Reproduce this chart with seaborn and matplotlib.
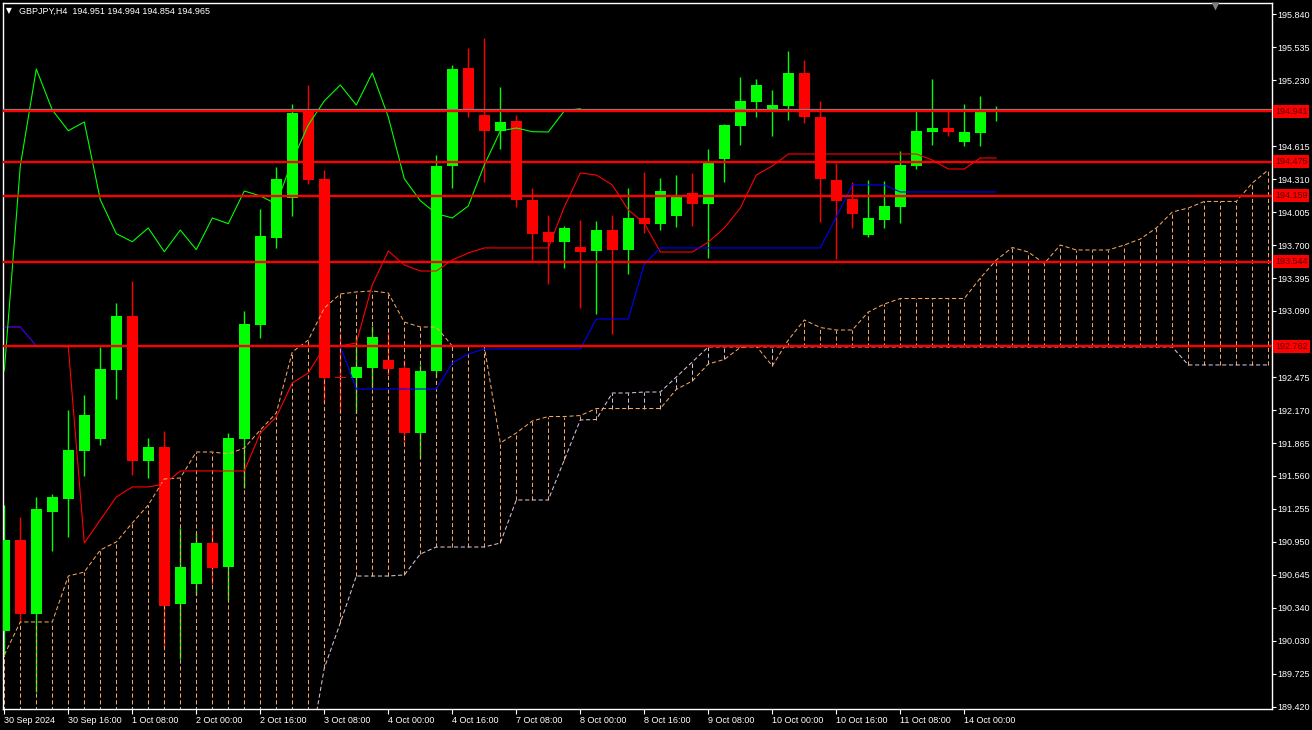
import matplotlib
matplotlib.use("Agg")
import matplotlib.pyplot as plt
import matplotlib.transforms as mtransforms
import numpy as np
import pandas as pd
import seaborn as sns

# ---------------- data ----------------
opens = [190.125, 190.966, 190.280, 191.228, 191.349, 191.794, 191.905, 192.545, 193.043, 191.699,
         191.828, 190.370, 190.561, 190.938, 190.716, 191.905, 192.960, 193.769, 194.140, 194.960,
         194.313, 192.477, 192.471, 192.561, 192.635, 192.561, 191.958, 192.536, 194.434, 195.343,
         194.907, 194.761, 194.851, 194.119, 193.822, 193.732, 193.683, 193.649, 193.840, 193.658,
         193.952, 193.896, 193.970, 194.183, 194.082, 194.499, 194.808, 195.030, 194.962, 194.993,
         195.296, 194.888, 194.304, 194.128, 193.797, 193.936, 194.057, 194.437, 194.752, 194.786,
         194.659, 194.743, 194.951]
highs = [191.291, 191.179, 191.365, 191.393, 192.171, 192.311, 192.756, 193.164, 193.368, 191.912,
         191.977, 191.077, 191.031, 191.087, 191.958, 193.089, 194.035, 194.425, 195.009, 195.185,
         194.397, 192.885, 192.851, 192.950, 192.885, 192.635, 192.589, 194.536, 195.370, 195.528,
         195.621, 195.166, 194.907, 194.233, 193.980, 193.878, 193.933, 193.924, 193.980, 194.230,
         194.378, 194.323, 194.350, 194.369, 194.592, 194.823, 195.259, 195.241, 195.139, 195.500,
         195.417, 195.037, 194.462, 194.286, 194.304, 194.295, 194.573, 194.953, 195.241, 194.953,
         195.009, 195.083, 194.994]
lows = [189.900, 190.206, 189.557, 190.867, 190.997, 191.562, 191.850, 192.271, 191.569, 191.541,
        189.977, 189.863, 190.456, 190.558, 190.410, 191.448, 192.839, 193.676, 193.973, 194.270,
        192.236, 192.144, 192.144, 192.375, 192.496, 191.866, 191.726, 192.477, 194.233, 194.891,
        194.288, 194.594, 194.057, 193.562, 193.343, 193.491, 193.120, 193.064, 192.879, 193.435,
        193.815, 193.840, 193.871, 193.880, 193.584, 194.288, 194.629, 194.888, 194.712, 194.860,
        194.835, 193.917, 193.574, 193.862, 193.778, 193.862, 193.908, 194.409, 194.629, 194.712,
        194.619, 194.619, 194.854]
closes = [190.966, 190.280, 191.253, 191.362, 191.801, 192.125, 192.552, 193.043, 191.701, 191.828,
          190.357, 190.716, 190.938, 190.709, 191.912, 192.969, 193.785, 194.313, 194.925, 194.307,
          192.471, 192.471, 192.570, 192.848, 192.552, 191.958, 192.533, 194.434, 195.333, 194.953,
          194.761, 194.842, 194.121, 193.806, 193.732, 193.859, 193.639, 193.840, 193.658, 193.952,
          193.899, 194.202, 194.156, 194.082, 194.483, 194.814, 195.037, 195.185, 194.999, 195.296,
          194.888, 194.316, 194.112, 193.992, 193.952, 194.063, 194.443, 194.758, 194.786, 194.752,
          194.749, 194.944, 194.965]

tenkan = [192.941, 192.941, 192.765, 192.765, 192.756, 190.938, 191.152, 191.365, 191.458, 191.458,
          191.485, 191.606, 191.606, 191.606, 191.606, 191.606, 191.958, 192.107, 192.422, 192.515,
          192.756, 192.765, 192.793, 193.331, 193.646, 193.516, 193.460, 193.460, 193.562, 193.627,
          193.674, 193.674, 193.674, 193.674, 193.674, 194.054, 194.369, 194.350, 194.258, 194.026,
          193.905, 193.636, 193.636, 193.636, 193.729, 193.859, 194.044, 194.350, 194.434, 194.545,
          194.545, 194.545, 194.545, 194.545, 194.545, 194.545, 194.545, 194.545, 194.489, 194.406,
          194.406, 194.508, 194.508]
kijun = ([192.941] * 2 + [192.765] * 20 + [192.366] * 6 + [192.607, 192.691] + [192.737] * 7
         + [193.015] * 3 + [193.525] + [193.674] * 11 + [193.961] + [194.258] * 3 + [194.193] * 7)
chikou = [192.533, 194.434, 195.333, 194.953, 194.761, 194.842, 194.121, 193.806, 193.732, 193.859,
          193.639, 193.840, 193.658, 193.952, 193.899, 194.202, 194.156, 194.082, 194.483, 194.814,
          195.037, 195.185, 194.999, 195.296, 194.888, 194.316, 194.112, 193.992, 193.952, 194.063,
          194.443, 194.758, 194.786, 194.752, 194.749, 194.944, 194.965]
span_a = [189.900, 190.206, 190.206, 190.206, 190.632, 190.669, 190.873, 190.948, 191.124, 191.291,
          191.532, 191.541, 191.782, 191.782, 191.764, 191.819, 191.986, 192.144, 192.709, 192.820,
          193.117, 193.247, 193.266, 193.275, 193.256, 192.987, 192.941, 192.941, 192.765, 192.765,
          192.760, 191.866, 191.958, 192.069, 192.111, 192.111, 192.120, 192.185, 192.185, 192.185,
          192.185, 192.185, 192.362, 192.440, 192.598, 192.640, 192.751, 192.765, 192.579, 192.820,
          193.006, 192.936, 192.913, 192.913, 193.080, 193.154, 193.205, 193.205, 193.205, 193.205,
          193.205, 193.395, 193.562, 193.678, 193.636, 193.530, 193.701, 193.655, 193.655, 193.655,
          193.701, 193.757, 193.859, 194.007, 194.044, 194.105, 194.105, 194.105, 194.276, 194.397]
span_b = ([188.80] * 19 + [188.926, 189.779, 190.197, 190.632, 190.632, 190.632, 190.642, 190.836]
          + [190.901] * 4 + [190.938] + [191.337] * 3 + [191.708, 192.079, 192.083]
          + [192.329] * 2 + [192.338] * 2 + [192.477, 192.617] + [192.756] * 30 + [192.589] * 6)

levels = [194.941, 194.475, 194.159, 193.544, 192.762]
bid_price = 194.965
ytick_vals = [195.840, 195.535, 195.230, 194.925, 194.615, 194.310, 194.005, 193.700, 193.395,
              193.090, 192.475, 192.170, 191.865, 191.560, 191.255, 190.950, 190.645,
              190.340, 190.030, 189.725, 189.420]
xtick_pos = [0, 4, 8, 12, 16, 20, 24, 28, 32, 36, 40, 44, 48, 52, 56, 60]
xtick_labels = ["30 Sep 2024", "30 Sep 16:00", "1 Oct 08:00", "2 Oct 00:00", "2 Oct 16:00",
                "3 Oct 08:00", "4 Oct 00:00", "4 Oct 16:00", "7 Oct 08:00", "8 Oct 00:00",
                "8 Oct 16:00", "9 Oct 08:00", "10 Oct 00:00", "10 Oct 16:00", "11 Oct 08:00",
                "14 Oct 00:00"]
header = "GBPJPY,H4  194.951 194.994 194.854 194.965"

# ---------------- style ----------------
sns.set_theme(style="dark", rc={"axes.facecolor": "black", "figure.facecolor": "black",
                                "axes.grid": False, "axes.edgecolor": "white"})
plt.rcParams["font.family"] = ["Liberation Sans", "DejaVu Sans"]

W, H = 1312, 730
L, R, T, B = 3, 1272, 3, 709
FS = 6.5
fig = plt.figure(figsize=(W / 100, H / 100), dpi=100)
ax = fig.add_axes([L / W, 1 - B / H, (R - L) / W, (B - T) / H])
ax.set_facecolor("black")

GREEN, RED = "#00ff00", "#ff0000"
SANDY, THISTLE = "#f4a460", "#d8bfd8"
DASH = (0, (4, 2.5))

# ---------------- candles ----------------
bars = np.arange(len(closes))
o = np.array(opens); c = np.array(closes)
ccol = np.where(c >= o, GREEN, RED)
ax.vlines(bars, lows, highs, colors=ccol, lw=1.0, zorder=2)
body = np.maximum(np.abs(c - o), 0.009)
ax.bar(bars, body, bottom=np.minimum(o, c), width=0.69, color=ccol, lw=0, zorder=2.6)

# ---------------- cloud ----------------
sa = np.array(span_a); sb = np.array(span_b)
cbars = np.arange(len(sa))
hcol = np.where(sa >= sb, SANDY, THISTLE)
ax.vlines(cbars, np.minimum(sa, sb), np.maximum(sa, sb), colors=hcol,
          linestyles=[DASH], lw=0.75, zorder=2.3)

cloud_df = pd.DataFrame({"bar": cbars, "a": sa, "b": sb})
sns.lineplot(data=cloud_df, x="bar", y="b", color=THISTLE, lw=0.75, ax=ax, zorder=3)
ax.lines[-1].set_linestyle(DASH)
sns.lineplot(data=cloud_df, x="bar", y="a", color=SANDY, lw=0.75, ax=ax, zorder=3)
ax.lines[-1].set_linestyle(DASH)

# ---------------- ichimoku lines ----------------
ichi_df = pd.DataFrame({"bar": bars, "tenkan": tenkan, "kijun": kijun})
sns.lineplot(data=ichi_df, x="bar", y="tenkan", color=RED, lw=0.8, ax=ax, zorder=4)
sns.lineplot(data=ichi_df, x="bar", y="kijun", color="#0000ff", lw=0.8, ax=ax, zorder=4.1)
chik_df = pd.DataFrame({"bar": np.arange(len(chikou)), "chikou": chikou})
sns.lineplot(data=chik_df, x="bar", y="chikou", color=GREEN, lw=0.8, ax=ax, zorder=4.2)

# ---------------- horizontal levels ----------------
ax.axhline(bid_price, color="#8a8a8a", lw=0.9, zorder=4.9)
for lv in levels:
    ax.axhline(lv, color=RED, lw=1.7, zorder=5)

trans = mtransforms.blended_transform_factory(ax.transAxes, ax.transData)
for lv in levels:
    ax.text(1.0 + 3 / (R - L), lv, f"{lv:.3f}", transform=trans, ha="left", va="center",
            fontsize=FS, color="#5a0000",
            bbox=dict(boxstyle="square,pad=0.22", fc=RED, ec="none"),
            clip_on=False, zorder=10)

# ---------------- axes ----------------
ax.set_xlim((L - 4.3) / 16, (R - 4.3) / 16)
ax.set_ylim(189.399, 195.945)
ax.set_xlabel(""); ax.set_ylabel("")
ax.grid(False)

ax.yaxis.tick_right()
ax.set_yticks(ytick_vals)
ax.set_yticklabels([f"{v:.3f}" for v in ytick_vals])
ax.tick_params(axis="y", which="both", right=True, left=False, length=3, width=0.8,
               color="white", labelcolor="white", labelsize=FS, pad=1)

ax.set_xticks(xtick_pos)
ax.set_xticklabels(xtick_labels, ha="left")
ax.tick_params(axis="x", bottom=True, top=False, length=3.5, width=0.8, color="white",
               labelcolor="white", labelsize=FS, pad=1.5)

for s in ax.spines.values():
    s.set_visible(True)
    s.set_color("white")
    s.set_linewidth(1.0)

# header and chart-shift marker
fig.text(6 / W, 1 - 11 / H, "▼", color="white", fontsize=5.5, va="center", ha="left",
         family=["DejaVu Sans"])
fig.text(19 / W, 1 - 11 / H, header, color="white", fontsize=FS, va="center", ha="left")
ax.plot([1215 / W], [1 - 6 / H], marker="v", ms=6, color="#808080", mec="none",
        transform=fig.transFigure, clip_on=False, zorder=11)

fig.savefig("out.png", dpi=100, facecolor="black")
